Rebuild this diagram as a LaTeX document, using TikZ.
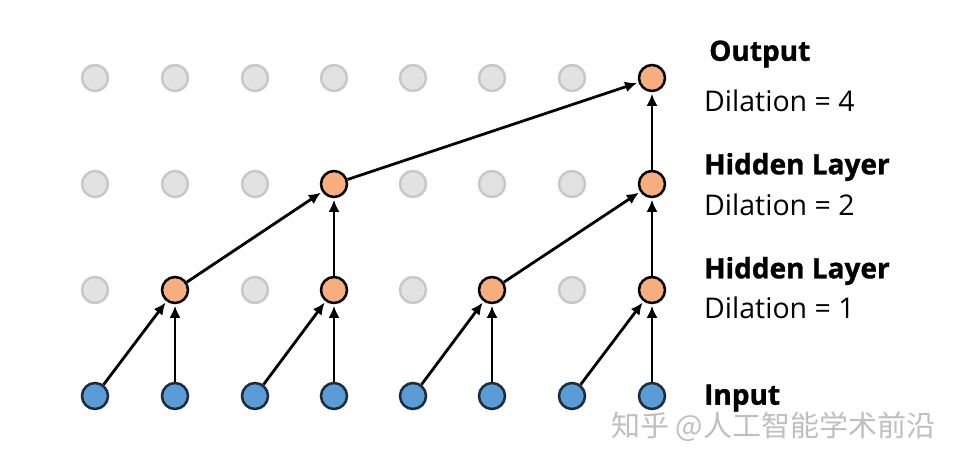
\documentclass[tikz,border=0pt]{standalone}
\usepackage{fontspec}
\setmainfont{Open Sans}
\newfontfamily\heavy{Open Sans}[FakeBold=1.2]
\newfontfamily\cjk{Noto Sans CJK SC}
\usetikzlibrary{arrows.meta}
\definecolor{grayfill}{HTML}{E2E2E2}
\definecolor{graydraw}{HTML}{C8C8C8}
\definecolor{orfill}{HTML}{F6AE7E}
\definecolor{blfill}{HTML}{5B9BD5}
\definecolor{bldraw}{HTML}{1C2A3A}
\tikzset{
  unit/.style={circle, minimum size=26pt, inner sep=0pt, line width=2.5pt},
  idle/.style={unit, fill=grayfill, draw=graydraw},
  active/.style={unit, fill=orfill, draw=black},
  inp/.style={unit, fill=blfill, draw=bldraw},
  conn/.style={line width=2.8pt, -{Latex[length=12pt,width=11pt]}, shorten >=1.5pt},
  title/.style={anchor=west, font=\heavy\fontsize{28}{30}\selectfont\bfseries, inner sep=0pt},
  dil/.style={anchor=west, font=\fontsize{28.5}{30}\selectfont, inner sep=0pt},
}
\begin{document}
\begin{tikzpicture}[x=1pt,y=-1pt]
\useasboundingbox (0,0) rectangle (954,464);
\fill[white] (0,0) rectangle (954,464);
% columns
\def\xs{{95,175,255,334,413,492,572,652}}
% input row
\foreach \c in {1,...,8} {
  \pgfmathsetmacro{\xx}{\xs[\c-1]}
  \node[inp] (i\c) at (\xx,396) {};
}
% hidden 1
\foreach \c in {1,...,8} {
  \pgfmathsetmacro{\xx}{\xs[\c-1]}
  \pgfmathtruncatemacro{\m}{mod(\c,2)}
  \ifnum\m=0
    \node[active] (a\c) at (\xx,290) {};
  \else
    \node[idle] (a\c) at (\xx,290) {};
  \fi
}
% hidden 2
\foreach \c in {1,...,8} {
  \pgfmathsetmacro{\xx}{\xs[\c-1]}
  \pgfmathtruncatemacro{\m}{mod(\c,4)}
  \ifnum\m=0
    \node[active] (b\c) at (\xx,184) {};
  \else
    \node[idle] (b\c) at (\xx,184) {};
  \fi
}
% output
\foreach \c in {1,...,7} {
  \pgfmathsetmacro{\xx}{\xs[\c-1]}
  \node[idle] (o\c) at (\xx,78) {};
}
\node[active] (o8) at (652,78) {};
% connections
\foreach \c/\t in {1/2,2/2,3/4,4/4,5/6,6/6,7/8,8/8}
  \draw[conn] (i\c) -- (a\t);
\foreach \c/\t in {2/4,4/4,6/8,8/8}
  \draw[conn] (a\c) -- (b\t);
\foreach \c/\t in {4/8,8/8}
  \draw[conn] (b\c) -- (o\t);
% labels
\node[title] (lo) at (709,54) {Output};
\node[dil] (ld4) at (704,101) {Dilation = 4};
\node[title] (lh2) at (704,167) {Hidden Layer};
\node[dil] (ld2) at (704,205) {Dilation = 2};
\node[title] (lh1) at (704,271) {Hidden Layer};
\node[dil] (ld1) at (704,308) {Dilation = 1};
\node[title] (li) at (704,398) {Input};
\node[anchor=west, inner sep=0pt, text=gray!50, font=\cjk\fontsize{29}{31}\selectfont] (wm) at (611,427) {知乎\ @人工智能学术前沿};
\end{tikzpicture}
\end{document}
